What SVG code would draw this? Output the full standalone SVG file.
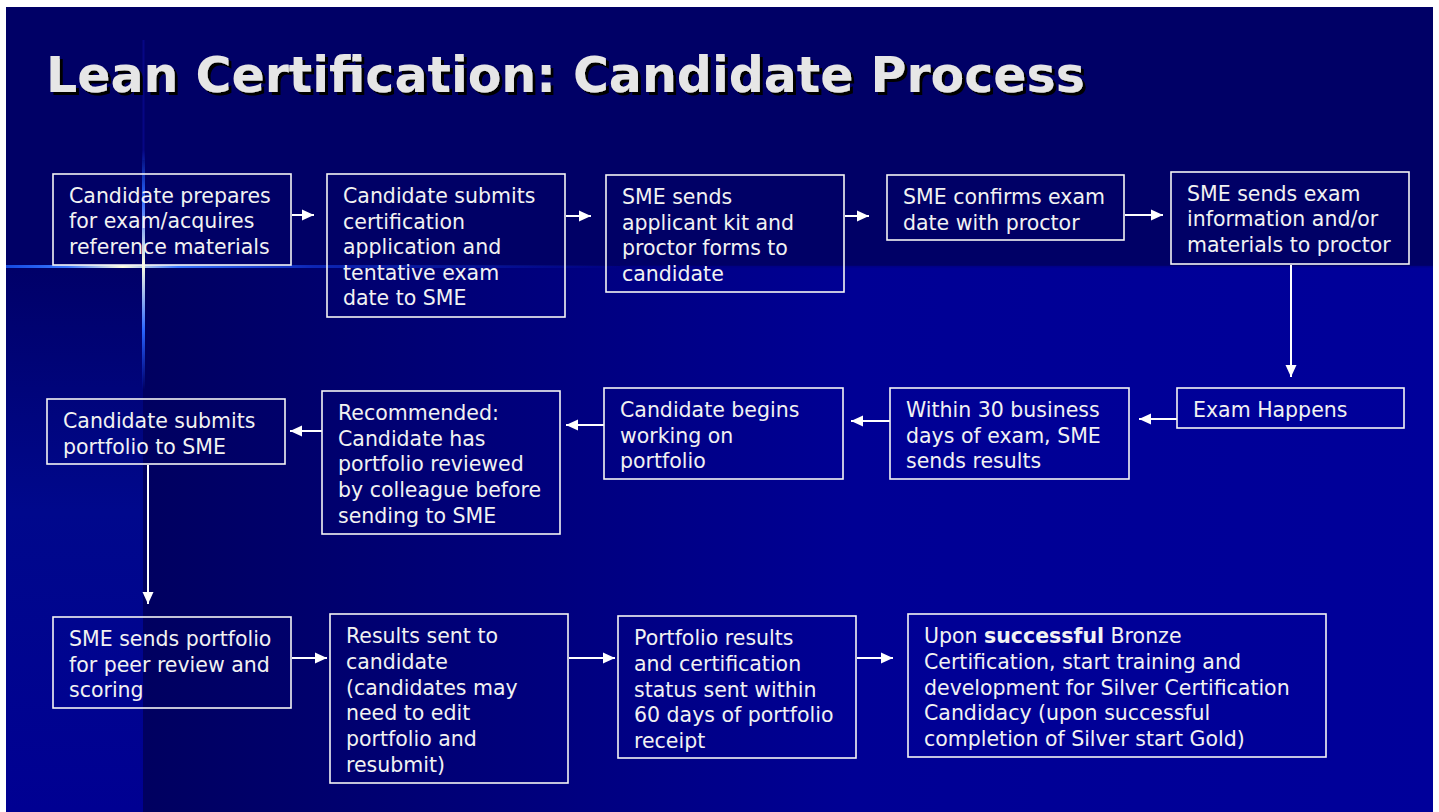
<svg xmlns="http://www.w3.org/2000/svg" width="1439" height="812" viewBox="0 0 1439 812">
<defs>
<style>
.box{fill:none;stroke:#f4f4f4;stroke-width:1.6}
.t{font-family:"DejaVu Sans",Verdana,sans-serif;font-size:20.5px;fill:#f2f2f2}
.c{stroke:#ffffff;stroke-width:2;fill:none;marker-end:url(#ah)}
</style>
<filter id="sh" x="-5%" y="-20%" width="110%" height="140%">
<feOffset in="SourceAlpha" dx="3" dy="3" result="o"/>
<feFlood flood-color="#000000"/>
<feComposite in2="o" operator="in" result="s"/>
<feMerge><feMergeNode in="s"/><feMergeNode in="SourceGraphic"/></feMerge>
</filter>
<marker id="ah" markerUnits="userSpaceOnUse" markerWidth="14" markerHeight="14" refX="12" refY="7" orient="auto">
<path d="M0,1.5 L12,7 L0,12.5 z" fill="#ffffff"/>
</marker>
<linearGradient id="lowR" x1="143" y1="0" x2="1433" y2="0" gradientUnits="userSpaceOnUse">
<stop offset="0" stop-color="#000060"/>
<stop offset="0.55" stop-color="#000094"/>
<stop offset="1" stop-color="#00009a"/>
</linearGradient>
<linearGradient id="lowL" x1="0" y1="266" x2="0" y2="812" gradientUnits="userSpaceOnUse">
<stop offset="0" stop-color="#000068"/>
<stop offset="0.45" stop-color="#00088c"/>
<stop offset="1" stop-color="#000092"/>
</linearGradient>
<linearGradient id="flH" x1="6" y1="0" x2="620" y2="0" gradientUnits="userSpaceOnUse">
<stop offset="0" stop-color="#1a5cff" stop-opacity="0.8"/>
<stop offset="0.1" stop-color="#3a78ff"/>
<stop offset="0.19" stop-color="#ffffe0"/>
<stop offset="0.28" stop-color="#3a78ff"/>
<stop offset="0.5" stop-color="#1a4cff" stop-opacity="0.5"/>
<stop offset="1" stop-color="#1a4cff" stop-opacity="0"/>
</linearGradient>
<linearGradient id="flV" x1="0" y1="150" x2="0" y2="390" gradientUnits="userSpaceOnUse">
<stop offset="0" stop-color="#1a5cff" stop-opacity="0"/>
<stop offset="0.2" stop-color="#2a66ff"/>
<stop offset="0.48" stop-color="#ffffe0"/>
<stop offset="0.75" stop-color="#2a66ff"/>
<stop offset="1" stop-color="#1a4cff" stop-opacity="0"/>
</linearGradient>
</defs>
<rect x="0" y="0" width="1439" height="812" fill="#ffffff"/>
<g id="background">
<rect x="6" y="7" width="1427" height="805" fill="#000066"/>
<rect x="143" y="266" width="1290" height="546" fill="url(#lowR)"/>
<rect x="6" y="266" width="137" height="546" fill="url(#lowL)"/>
<line x1="143.5" y1="40" x2="143.5" y2="160" stroke="#0a0a99" stroke-width="2" opacity="0.6"/>
<line x1="6" y1="266.5" x2="620" y2="266.5" stroke="url(#flH)" stroke-width="3"/>
<line x1="620" y1="266.5" x2="1433" y2="266.5" stroke="#000080" stroke-width="2" opacity="0.6"/>
<line x1="143.5" y1="150" x2="143.5" y2="390" stroke="url(#flV)" stroke-width="3"/>
</g>
<g id="title">
<text x="46" y="92" font-family="'DejaVu Sans',Verdana,sans-serif" font-weight="bold" font-size="49" fill="#e6e6e6" filter="url(#sh)">Lean Certification: Candidate Process</text>
</g>
<g id="connectors">
<line class="c" x1="292" y1="215" x2="314" y2="215"/>
<line class="c" x1="566" y1="216" x2="591" y2="216"/>
<line class="c" x1="845" y1="216" x2="869" y2="216"/>
<line class="c" x1="1125" y1="215" x2="1163" y2="215"/>
<line class="c" x1="1291" y1="265" x2="1291" y2="377"/>
<line class="c" x1="1177" y1="419" x2="1139" y2="419"/>
<line class="c" x1="890" y1="421" x2="851" y2="421"/>
<line class="c" x1="604" y1="425" x2="566" y2="425"/>
<line class="c" x1="322" y1="431" x2="290" y2="431"/>
<line class="c" x1="148" y1="465" x2="148" y2="604"/>
<line class="c" x1="292" y1="658" x2="327" y2="658"/>
<line class="c" x1="569" y1="658" x2="615" y2="658"/>
<line class="c" x1="857" y1="658" x2="893" y2="658"/>
</g>
<g id="n1">
<rect class="box" x="53" y="174" width="238" height="91"/>
<text class="t" x="69" y="203">Candidate prepares<tspan x="69" dy="25.3">for exam/acquires</tspan><tspan x="69" dy="25.3">reference materials</tspan></text>
</g>
<g id="n2">
<rect class="box" x="327" y="174" width="238" height="143"/>
<text class="t" x="343" y="203">Candidate submits<tspan x="343" dy="25.6">certification</tspan><tspan x="343" dy="25.6">application and</tspan><tspan x="343" dy="25.6">tentative exam</tspan><tspan x="343" dy="25.6">date to SME</tspan></text>
</g>
<g id="n3">
<rect class="box" x="606" y="175" width="238" height="117"/>
<text class="t" x="622" y="204">SME sends<tspan x="622" dy="25.7">applicant kit and</tspan><tspan x="622" dy="25.7">proctor forms to</tspan><tspan x="622" dy="25.7">candidate</tspan></text>
</g>
<g id="n4">
<rect class="box" x="887" y="175" width="237" height="65"/>
<text class="t" x="903" y="204">SME confirms exam<tspan x="903" dy="25.7">date with proctor</tspan></text>
</g>
<g id="n5">
<rect class="box" x="1171" y="172" width="238" height="92"/>
<text class="t" x="1187" y="201">SME sends exam<tspan x="1187" dy="25.3">information and/or</tspan><tspan x="1187" dy="25.3">materials to proctor</tspan></text>
</g>
<g id="n6">
<rect class="box" x="1177" y="388" width="227" height="40"/>
<text class="t" x="1193" y="417">Exam Happens</text>
</g>
<g id="n7">
<rect class="box" x="890" y="388" width="239" height="91"/>
<text class="t" x="906" y="417">Within 30 business<tspan x="906" dy="25.7">days of exam, SME</tspan><tspan x="906" dy="25.7">sends results</tspan></text>
</g>
<g id="n8">
<rect class="box" x="604" y="388" width="239" height="91"/>
<text class="t" x="620" y="417">Candidate begins<tspan x="620" dy="25.7">working on</tspan><tspan x="620" dy="25.7">portfolio</tspan></text>
</g>
<g id="n9">
<rect class="box" x="322" y="391" width="238" height="143"/>
<text class="t" x="338" y="420">Recommended:<tspan x="338" dy="25.7">Candidate has</tspan><tspan x="338" dy="25.7">portfolio reviewed</tspan><tspan x="338" dy="25.7">by colleague before</tspan><tspan x="338" dy="25.7">sending to SME</tspan></text>
</g>
<g id="n10">
<rect class="box" x="47" y="399" width="238" height="65"/>
<text class="t" x="63" y="428">Candidate submits<tspan x="63" dy="25.7">portfolio to SME</tspan></text>
</g>
<g id="n11">
<rect class="box" x="53" y="617" width="238" height="91"/>
<text class="t" x="69" y="646">SME sends portfolio<tspan x="69" dy="25.7">for peer review and</tspan><tspan x="69" dy="25.7">scoring</tspan></text>
</g>
<g id="n12">
<rect class="box" x="330" y="614" width="238" height="169"/>
<text class="t" x="346" y="643">Results sent to<tspan x="346" dy="25.8">candidate</tspan><tspan x="346" dy="25.8">(candidates may</tspan><tspan x="346" dy="25.8">need to edit</tspan><tspan x="346" dy="25.8">portfolio and</tspan><tspan x="346" dy="25.8">resubmit)</tspan></text>
</g>
<g id="n13">
<rect class="box" x="618" y="616" width="238" height="142"/>
<text class="t" x="634" y="645">Portfolio results<tspan x="634" dy="25.8">and certification</tspan><tspan x="634" dy="25.8">status sent within</tspan><tspan x="634" dy="25.8">60 days of portfolio</tspan><tspan x="634" dy="25.8">receipt</tspan></text>
</g>
<g id="n14">
<rect class="box" x="908" y="614" width="418" height="143"/>
<text class="t" x="924" y="643">Upon <tspan font-weight="bold">successful</tspan> Bronze<tspan x="924" dy="25.8">Certification, start training and</tspan><tspan x="924" dy="25.8">development for Silver Certification</tspan><tspan x="924" dy="25.8">Candidacy (upon successful</tspan><tspan x="924" dy="25.8">completion of Silver start Gold)</tspan></text>
</g>
</svg>
